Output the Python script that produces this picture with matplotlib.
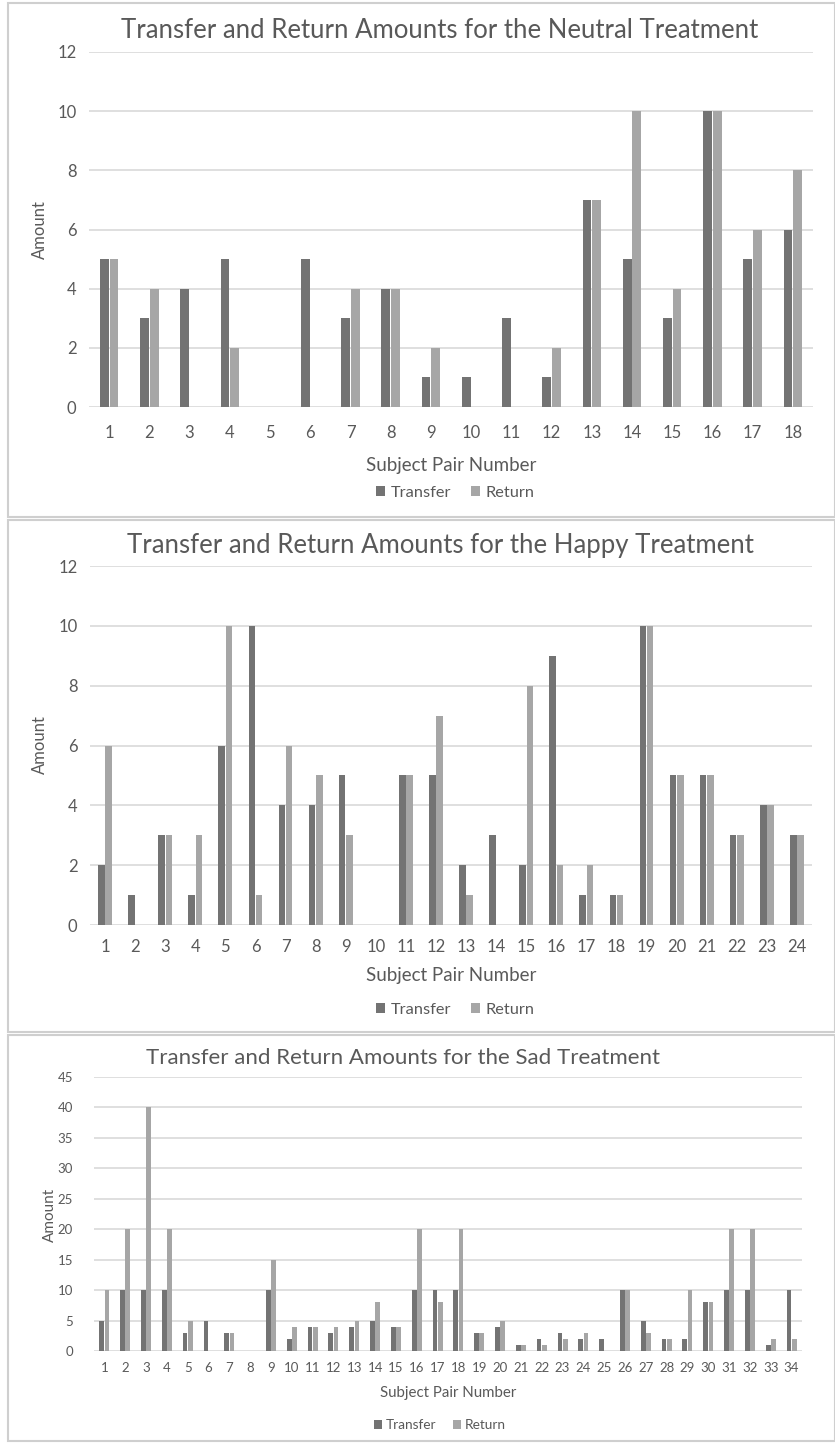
import numpy as np
import matplotlib
matplotlib.use("Agg")
import matplotlib.pyplot as plt
from matplotlib.patches import Patch, Rectangle

plt.rcParams['font.family'] = ['Lato', 'DejaVu Sans']

# Neutral treatment
neutral_pairs = [str(i) for i in range(1, 19)]
neutral_transfer = [5, 3, 4, 5, 0, 5, 3, 4, 1, 1, 3, 1, 7, 5, 3, 10, 5, 6]
neutral_return = [5, 4, 0, 2, 0, 0, 4, 4, 2, 0, 0, 2, 7, 10, 4, 10, 6, 8]

# Happy treatment
happy_pairs = [str(i) for i in range(1, 25)]
happy_transfer = [2, 1, 3, 1, 6, 10, 4, 4, 5, 0, 5, 5, 2, 3, 2, 9, 1, 1, 10, 5, 5, 3, 4, 3]
happy_return = [6, 0, 3, 3, 10, 1, 6, 5, 3, 0, 5, 7, 1, 0, 8, 2, 2, 1, 10, 5, 5, 3, 4, 3]

# Sad treatment
sad_pairs = [str(i) for i in range(1, 35)]
sad_transfer = [5, 10, 10, 10, 3, 5, 3, 0, 10, 2, 4, 3, 4, 5, 4, 10, 10, 10, 3, 4,
                1, 2, 3, 2, 2, 10, 5, 2, 2, 8, 10, 10, 1, 10]
sad_return = [10, 20, 40, 20, 5, 0, 3, 0, 15, 4, 4, 4, 5, 8, 4, 20, 8, 20, 3, 5,
              1, 1, 2, 3, 0, 10, 3, 2, 10, 8, 20, 20, 2, 2]

W, H = 835, 1443
fig = plt.figure(figsize=(W / 100, H / 100), dpi=100)
fig.patch.set_facecolor('white')

DARK = '#737373'
LIGHT = '#a6a6a6'
GRID = '#d9d9d9'
TEXT = '#595959'


def rect(l, t, r, b):
    return [l / W, 1 - b / H, (r - l) / W, (b - t) / H]


def fx(x):
    return x / W


def fy(y):
    return 1 - y / H


def panel_box(t, b):
    fig.add_artist(Rectangle((fx(8), fy(b)), fx(835 - 8), fy(t) - fy(b),
                             transform=fig.transFigure, fill=False,
                             edgecolor='#cfcfcf', lw=1.5))


def draw(axpos, pairs, transfer, ret, ymax, ystep, title, title_xy, title_fs,
         tick_fs, ypad, xpad, ylabel_xy, ylabel_fs, xlabel_y, xlabel_fs,
         legend_xy, legend_fs, width):
    ax = fig.add_axes(rect(*axpos))
    n = len(pairs)
    x = np.arange(n)
    gap = 0.02
    ax.bar(x - width / 2 - gap / 2, transfer, width, color=DARK, zorder=3)
    ax.bar(x + width / 2 + gap / 2, ret, width, color=LIGHT, zorder=3)
    ax.set_xlim(-0.5, n - 0.5)
    ax.set_ylim(0, ymax)
    yt = np.arange(0, ymax + 0.1, ystep)
    ax.set_yticks(yt)
    ax.set_yticklabels([f"{int(v)}" for v in yt])
    for v in yt:
        ax.axhline(v, color=GRID, lw=1.2, zorder=1)
    ax.set_xticks(x)
    ax.set_xticklabels(pairs)
    for s in ax.spines.values():
        s.set_visible(False)
    ax.tick_params(axis='both', length=0, colors=TEXT, labelsize=tick_fs)
    ax.tick_params(axis='y', pad=ypad)
    ax.tick_params(axis='x', pad=xpad)
    ax.set_facecolor('none')
    fig.text(fx(title_xy[0]), fy(title_xy[1]), title, ha='center', va='center',
             fontsize=title_fs, color=TEXT)
    fig.text(fx(ylabel_xy[0]), fy(ylabel_xy[1]), 'Amount', ha='center', va='center',
             rotation=90, fontsize=ylabel_fs, color=TEXT)
    fig.text(fx((axpos[0] + axpos[2]) / 2), fy(xlabel_y), 'Subject Pair Number',
             ha='center', va='center', fontsize=xlabel_fs, color=TEXT)
    handles = [Patch(facecolor=DARK, label='Transfer'), Patch(facecolor=LIGHT, label='Return')]
    fig.legend(handles=handles, loc='center', bbox_to_anchor=(fx(legend_xy[0]), fy(legend_xy[1])),
               ncol=2, frameon=False, fontsize=legend_fs, labelcolor=TEXT,
               handlelength=0.6, handleheight=0.6, handletextpad=0.3, columnspacing=1.2)
    return ax


panel_box(3, 517)
panel_box(520, 1032)
panel_box(1035, 1441)

draw((89, 52, 813, 407), neutral_pairs, neutral_transfer, neutral_return, 12, 2,
     'Transfer and Return Amounts for the Neutral Treatment', (440, 30), 18.5,
     12, 9, 13, (40, 230), 12, 465, 13.5, (455, 493), 11.8, 0.22)

draw((90, 566, 812, 925), happy_pairs, happy_transfer, happy_return, 12, 2,
     'Transfer and Return Amounts for the Happy Treatment', (440, 545), 18.5,
     12, 9, 10, (40, 745), 12, 975, 13.5, (455, 1010), 11.8, 0.22)

draw((94, 1077, 802, 1351), sad_pairs, sad_transfer, sad_return, 45, 5,
     'Transfer and Return Amounts for the Sad Treatment', (403, 1058), 16,
     9.5, 15, 8, (50, 1215), 11, 1393, 10.8, (440, 1425), 9.8, 0.23)

fig.savefig('out.png', dpi=100, facecolor='white')
